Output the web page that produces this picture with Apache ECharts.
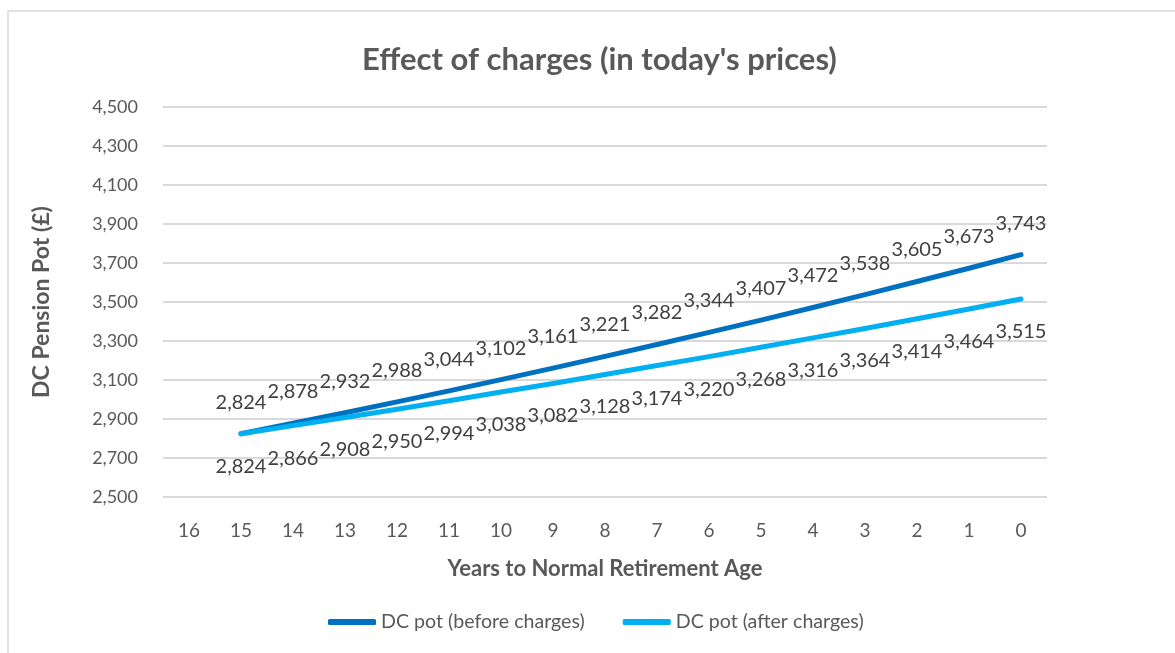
<!DOCTYPE html>
<html>
<head>
<meta charset="utf-8">
<script src="https://cdn.jsdelivr.net/npm/echarts@6/dist/echarts.min.js"></script>
<style>
  html, body { margin: 0; padding: 0; background: #fff; }
  #main { width: 1175px; height: 653px; }
</style>
</head>
<body>
<div id="main"></div>
<script>
// years to normal retirement age (x axis, left to right)
var years = ['16', '15', '14', '13', '12', '11', '10', '9', '8', '7', '6', '5', '4', '3', '2', '1', '0'];
// pot values, no value at 16
var beforeCharges = [null, 2824, 2878, 2932, 2988, 3044, 3102, 3161, 3221, 3282, 3344, 3407, 3472, 3538, 3605, 3673, 3743];
var afterCharges = [null, 2824, 2866, 2908, 2950, 2994, 3038, 3082, 3128, 3174, 3220, 3268, 3316, 3364, 3414, 3464, 3515];

var fontName = 'Lato';
var txt = '#595959';

function fmt(v) {
    return v.toLocaleString('en-GB');
}

var chart = echarts.init(document.getElementById('main'));
chart.setOption({
    animation: false,
    textStyle: { fontFamily: fontName },
    graphic: [{
        type: 'rect',
        shape: { x: 8, y: 11, width: 1300, height: 800 },
        style: { fill: 'none', stroke: '#d9d9d9', lineWidth: 1.5 },
        silent: true
    }],
    title: {
        text: "Effect of charges (in today's prices)",
        left: 357,
        top: 39,
        textStyle: { fontFamily: fontName, fontSize: 31, fontWeight: 'bold', color: txt }
    },
    legend: {
        bottom: 16,
        left: 323,
        itemWidth: 48,
        itemHeight: 6,
        itemGap: 38,
        icon: 'roundRect',
        textStyle: { fontFamily: fontName, fontSize: 19.6, color: txt },
        data: ['DC pot (before charges)', 'DC pot (after charges)']
    },
    grid: { left: 163, right: 128, top: 107, bottom: 156 },
    xAxis: {
        type: 'category',
        data: years,
        boundaryGap: true,
        name: 'Years to Normal Retirement Age',
        nameLocation: 'middle',
        nameGap: 61,
        nameTextStyle: { fontFamily: fontName, fontSize: 22, fontWeight: 'bold', color: txt },
        axisLine: { show: false },
        axisTick: { show: false },
        axisLabel: { margin: 24, fontSize: 19, color: txt, fontFamily: fontName }
    },
    yAxis: {
        type: 'value',
        min: 2500,
        max: 4500,
        interval: 200,
        name: 'DC Pension Pot (£)',
        nameLocation: 'middle',
        nameGap: 110,
        nameTextStyle: { fontFamily: fontName, fontSize: 23, fontWeight: 'bold', color: txt },
        axisLine: { show: false },
        axisTick: { show: false },
        axisLabel: { margin: 25, fontSize: 18, color: txt, fontFamily: fontName, formatter: fmt },
        splitLine: { lineStyle: { color: '#d9d9d9', width: 2 } }
    },
    series: [
        {
            name: 'DC pot (before charges)',
            type: 'line',
            data: beforeCharges,
            color: '#0070C0',
            symbol: 'circle',
            symbolSize: 1,
            lineStyle: { width: 5, cap: 'round', join: 'round' },
            label: {
                show: true,
                position: 'top',
                distance: 21,
                fontSize: 20,
                color: '#404040',
                fontFamily: fontName,
                formatter: function (p) { return fmt(p.value); }
            },
            z: 3
        },
        {
            name: 'DC pot (after charges)',
            type: 'line',
            data: afterCharges,
            color: '#00B0F0',
            symbol: 'circle',
            symbolSize: 1,
            lineStyle: { width: 5, cap: 'round', join: 'round' },
            label: {
                show: true,
                position: 'bottom',
                distance: 22,
                fontSize: 20,
                color: '#404040',
                fontFamily: fontName,
                formatter: function (p) { return fmt(p.value); }
            },
            z: 4
        }
    ]
});
</script>
</body>
</html>
